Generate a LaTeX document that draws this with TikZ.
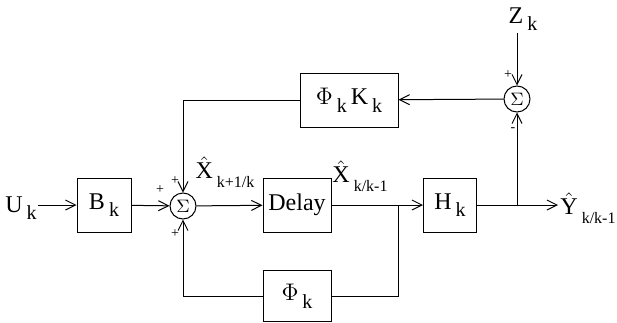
\documentclass[tikz,border=0pt]{standalone}
\usepackage{fontspec}
\setmainfont{Liberation Serif}
\usetikzlibrary{arrows.meta,positioning}
\newcommand{\lbl}[2]{#1\,\raisebox{-0.7ex}{\normalsize #2}}
\newcommand{\hlbl}[2]{$\hat{\hbox{#1}}$\,\raisebox{-0.8ex}{\footnotesize #2}}
\tikzset{
  block/.style={draw, minimum height=27pt, inner sep=0pt, font=\large},
  summer/.style={draw, circle, minimum size=13pt, inner sep=0pt, font=\small},
  sig/.style={font=\large, inner sep=0pt},
  sign/.style={font=\scriptsize, inner sep=0pt},
  >={Straight Barb[length=5pt,width=5pt]}
}

\begin{document}
\begin{tikzpicture}[x=0.5pt, y=-0.5pt, line width=0.5pt]
    \useasboundingbox (0,0) rectangle (617,322);
    % forward path
    \node[sig] (U) at (21,208) {\lbl{U}{k}};
    \node[block, minimum width=27pt] (B) at (104,205) {\lbl{B}{k}};
    \node[summer] (S1) at (183,206) {$\Sigma$};
    \node[block, minimum width=34pt] (D) at (297,205) {Delay};
    \node[block, minimum width=26.5pt] (H) at (450,205) {\lbl{H}{k}};
    \coordinate (J1) at (398,205);
    \coordinate (J2) at (517,205);
    \coordinate (Yend) at (558,205);
    \node[sig] (Y) at (588,208) {\hlbl{Y}{k/k-1}};
    \node[sig] (X1) at (225,172) {\hlbl{X}{k+1/k}};
    \node[sig] (X2) at (360,176) {\hlbl{X}{k/k-1}};
    % correction loop
    \node[summer] (S2) at (517,99) {$\Sigma$};
    \node[sig] (Z) at (523,19) {\lbl{Z}{k}};
    \coordinate (Ztop) at (517,33);
    \node[block, minimum width=49pt] (PK) at (349,100) {$\Phi$\,\raisebox{-0.7ex}{\normalsize k}\,\lbl{K}{k}};
    % state loop
    \node[block, minimum width=34pt, minimum height=25.5pt] (P) at (297,296) {$\Phi$\,\raisebox{-0.7ex}{\normalsize k}};
    % signs
    \node[sign] at (160,190) {+};
    \node[sign] at (175,181) {+};
    \node[sign] at (175,234) {+};
    \node[sign] at (508,75) {+};
    \node[sign] at (513,130) {-};

    \draw[->] (38,205) -- (B);
    \draw[->] (B) -- (S1);
    \draw[->] (S1) -- (D);
    \draw[->] (D) -- (H);
    \draw[->] (H.east) -- (Yend);
    \draw[->] (Ztop) -- (S2);
    \draw[->] (J2) -- (S2);
    \draw[->] (S2) -- (PK);
    \draw[->] (PK.west) -| (S1);
    \draw (J1) |- (P.east);
    \draw[->] (P.west) -| (S1);
\end{tikzpicture}
\end{document}
